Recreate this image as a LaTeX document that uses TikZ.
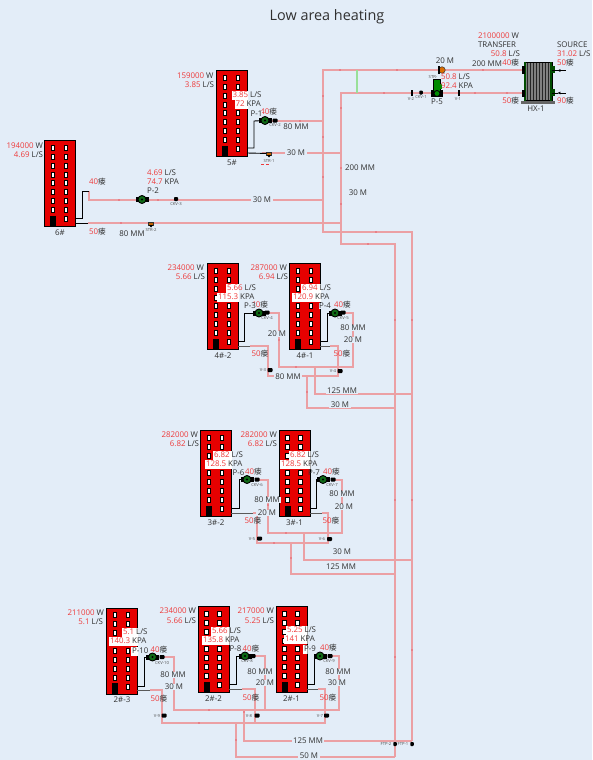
\documentclass[tikz,border=0pt]{standalone}
\usepackage{fontspec}
\setmainfont{Open Sans}
\newfontfamily\cjkf{Noto Sans CJK SC}
\usetikzlibrary{arrows.meta,calc}
\definecolor{bgc}{HTML}{E3EDF8}
\definecolor{pipec}{HTML}{EBA0A4}
\definecolor{tickc}{HTML}{E88088}
\definecolor{numc}{HTML}{EE3A3A}
\definecolor{txtc}{HTML}{303030}
\definecolor{redb}{HTML}{E60000}
\definecolor{greenp}{HTML}{0F6A16}
\newcommand{\rv}[1]{\textcolor{numc}{#1}}
\newcommand{\tmpv}[1]{\textcolor{numc}{#1}{\cjkf\fontsize{7.6}{8}\selectfont 瘘}}
\tikzset{
  pipe/.style={draw=pipec,line width=1.3pt,line join=miter},
  feed/.style={draw=black,line width=0.9pt},
  ret/.style={draw=black!65,line width=0.9pt},
  lab/.style={font=\fontsize{7.9}{9}\selectfont,text=txtc,inner sep=0pt,outer sep=0pt},
  tiny/.style={font=\fontsize{4.2}{5}\selectfont,text=black!70,inner sep=0pt},
  cut/.style={lab,fill=bgc,inner xsep=1.5pt,inner ysep=0.5pt},
  building/.style={draw=black,fill=redb,line width=1pt,minimum width=31pt,minimum height=86pt,inner sep=0pt,anchor=north west},
  wind/.style={draw=black,fill=white,line width=0.7pt},
  pumpn/.style={circle,fill=greenp,draw=black,line width=0.9pt,minimum size=8pt,inner sep=0pt},
  valve/.style={rectangle,fill=black,minimum width=5pt,minimum height=4pt,inner sep=0pt,rounded corners=0.8pt},
  vbar/.style={rectangle,fill=black,minimum width=1.8pt,minimum height=6pt,inner sep=0pt},
  strn/.style={rectangle,fill=orange!75!black,draw=black!80,line width=0.5pt,minimum width=5pt,minimum height=3pt,inner sep=0pt},
}
\newcommand{\Bld}[4]{% name x y label
  \node[building] (#1) at (#2,#3) {};
  \foreach \r in {0,...,7}{
    \draw[wind] ({#2+7.2},{#3+5+\r*8.95}) rectangle ++(3.6,5);
    \draw[wind] ({#2+20.2},{#3+5+\r*8.95}) rectangle ++(3.6,5);
  }
  \draw[wind] ({#2+20.2},{#3+76.6}) rectangle ++(3.6,5);
  \fill[black] ({#2+6},{#3+75.5}) rectangle ({#2+12},{#3+86});
  \node[lab] at ($(#1.south)+(0,5.5)$) {#4};
}
\newcommand{\Pump}[3]{% name x y
  \fill[black] ({#2-6.5},{#3-2.5}) rectangle ({#2+6.5},{#3+2.5});
  \node[pumpn] (#1) at (#2,#3) {};
  \fill[black] (#2,#3) circle (1.1pt);
}
% label with a white ground where it lies over its building: building, name, position, text
\newcommand{\Wlab}[4]{%
  \begin{scope}
    \clip (#1.south west) rectangle (#1.north east);
    \fill[white] ($(#3)+(-0.6,-4.5)$) -- ++(60,0) -- ++(0,9) -- ++(-60,0) -- cycle;
  \end{scope}
  \node[lab,anchor=west] (#2) at (#3) {#4};
}
\begin{document}
\begin{tikzpicture}[x=1pt,y=-1pt]
\useasboundingbox[fill=bgc] (0,0) rectangle (592,760);
\node[lab,font=\fontsize{14.4}{16}\selectfont] (title) at (327,17) {Low area heating};

% junction points
\coordinate (ta) at (323,70);
\coordinate (tb) at (341,93);
\coordinate (hL1) at (524,70);
\coordinate (hL2) at (524,93);
\coordinate (tend1) at (412,741);
\coordinate (tend2) at (395,757);

% main trunks
\draw[pipe] (hL1) -- (ta) -- (323,232) -- (412,232) -- (tend1);
\draw[pipe] (hL2) -- (tb) -- (341,244) -- (395,244) -- (tend2);
\draw[draw=green!70!black!40!white,line width=1.2pt] (357,70) -- (357,93);

% 5#
\draw[pipe] (270,121) -- (323,121);
\draw[pipe] (262,153) -- (341,153);
% 6#
\draw[pipe] (89,191) -- (89,200) -- (323,200);
\draw[pipe] (88,223) -- (341,223);
% 4# row
\draw[pipe] (267,313) -- (279,313) -- (279,367) -- (353,367) -- (353,313) -- (343,313);
\draw[pipe] (250,346) -- (268,346) -- (268,376) -- (338,376) -- (338,346) -- (330,346);
\draw[pipe] (315,367) -- (315,394) -- (412,394);
\draw[pipe] (307,376) -- (307,408) -- (395,408);
% 3# row
\draw[pipe] (257,480) -- (268,480) -- (268,533) -- (342,533) -- (342,480) -- (332,480);
\draw[pipe] (253,513) -- (257,513) -- (257,543) -- (328,543) -- (328,513) -- (322,513);
\draw[pipe] (304,533) -- (304,560) -- (412,560);
\draw[pipe] (291,543) -- (291,574) -- (395,574);
% 2# row
\draw[pipe] (162,657) -- (174,657) -- (174,710) -- (339,710) -- (339,656) -- (330,656);
\draw[pipe] (252,656) -- (265,656) -- (265,710);
\draw[pipe] (150,690) -- (162,690) -- (162,723) -- (325,723) -- (325,689) -- (318,689);
\draw[pipe] (242,689) -- (255,689) -- (255,723);
\draw[pipe] (244,710) -- (244,741) -- (tend1);
\draw[pipe] (236,723) -- (236,757) -- (tend2);

% ticks on the pipes
\foreach \p in {(340,70),(397,70),(483,70),(384,93),(475,93),(507,93),(323,96),(323,137),(323,177),(341,108),(341,168),(341,204),(376,232),(368,244),(300,121),
 (119,200),(158,200),(121,223),(412,320),(395,320),(412,500),(395,500),(412,650),(395,657),(279,340),(296,367),(307,392),(300,376),(268,505),(286,533),(274,543),(291,558),(209,710),(199,723),(236,740),(244,712)}
  \fill[tickc] \p ++(-1.2,-1.2) rectangle ++(2.4,2.4);

% buildings
\Bld{b5}{216}{70}{5\#}
\Bld{b6}{44}{140}{6\#}
\Bld{b42}{207}{263}{4\#-2}
\Bld{b41}{289}{263}{4\#-1}
\Bld{b32}{200}{430}{3\#-2}
\Bld{b31}{278.5}{430}{3\#-1}
\Bld{b23}{106}{607.5}{2\#-3}
\Bld{b22}{197.5}{606}{2\#-2}
\Bld{b21}{275.5}{606}{2\#-1}

% pumps and valves
\Pump{p1}{265}{120.5}
\Pump{p2}{142}{199.5}
\Pump{p3}{259}{313}
\Pump{p4}{335}{313}
\Pump{p6}{247}{479.5}
\Pump{p7}{323}{479.5}
\Pump{p10}{152.5}{657}
\Pump{p8}{245}{656}
\Pump{p9}{320}{656}
\node[valve] (c2) at (275,120.5) {};
\node[valve,minimum width=4pt] (c3) at (176,199) {};
\node[valve] (c4) at (267,312.5) {};
\node[valve] (c5) at (343,312.5) {};
\node[valve] (c6) at (257,479.5) {};
\node[valve] (c7) at (333,479.5) {};
\node[valve] (c10) at (162,657) {};
\node[valve] (c8) at (253,656) {};
\node[valve] (c9) at (330,656) {};
\node[strn] (s1) at (269,153.5) {};
\fill[black] (267,155) -- (271,155) -- (269,157.5) -- cycle;
\node[strn] (s2) at (151,223.5) {};
\fill[black] (149,225) -- (153,225) -- (151,227.5) -- cycle;
\node[valve] (v3) at (270,370) {};
\node[valve] (v4) at (340,371) {};
\node[valve] (v5) at (259.5,538.5) {};
\node[valve] (v6) at (329.5,539) {};
\node[valve] (v8) at (164,715.5) {};
\node[valve] (v88) at (257,715.5) {};
\node[valve] (v7) at (326.5,715.5) {};
\node[valve,minimum width=3.5pt] (f2) at (395,744) {};
\node[valve,minimum width=3.5pt] (f1) at (412,744) {};

% connections from the buildings
\draw[feed] (247,148) -| (254,121) -- (p1);
\draw[feed] (247,153) -- (s1);
\draw[feed] (76,218) -- (82.5,218) -- (82.5,191) -- (89,191);
\draw[feed] (76,223) -- (88,223);
\draw[feed] (238,341) -- (244,341) -- (244,313) -- (p3);
\draw[ret] (238,346) -- (250,346);
\draw[feed] (320,341) -- (327,341) -- (327,313) -- (p4);
\draw[ret] (320,346) -- (330,346);
\draw[feed] (231,508) -- (239,508) -- (239,479.5) -- (p6);
\draw[ret] (231,513) -- (253,513);
\draw[feed] (310,508) -- (316.5,508) -- (316.5,479.5) -- (p7);
\draw[ret] (310,513) -- (322,513);
\draw[feed] (137,686) -- (144,686) -- (144,657) -- (p10);
\draw[ret] (137,690) -- (150,690);
\draw[feed] (229,684) -- (236,684) -- (236,656) -- (p8);
\draw[ret] (229,689) -- (242,689);
\draw[feed] (307,684) -- (314,684) -- (314,656) -- (p9);
\draw[ret] (307,689) -- (318,689);

% source side equipment
\node[circle,fill=orange!85!black,draw=black!80,line width=0.5pt,minimum size=6.5pt,inner sep=0pt] (s5) at (442,70) {};
\fill[black] (438,66.5) rectangle (439.5,73.5);
\fill[black] (431,90) rectangle (443,97);
\fill[green!55!black,draw=black,line width=0.5pt] (433,79) rectangle (440,92);
\fill[green!55!black] (433.5,84) rectangle (441.5,89);
\node[pumpn,fill=green!55!black,minimum size=6pt] (p5) at (437,93.5) {};
\node[vbar] (v1) at (459,93) {};
\node[vbar] (v2) at (412,92.5) {};
\node[valve,minimum width=3.5pt] (c1) at (421,92.5) {};

% heat exchanger
\node[rectangle,draw=black,fill=black!50,line width=0.7pt,minimum width=28pt,minimum height=38pt,inner sep=0pt] (hx) at (538,81.5) {};
\foreach \x in {527,530,533,536,539,542,545,548} \draw[black!85,line width=0.8pt] (\x,63) -- (\x,100);
\fill[black!70!green] (524,62.5) rectangle (526,100.5);
\fill[black!70!green] (550,62.5) rectangle (552,100.5);
\fill[black!60] (521,101) rectangle (555,104);
\fill[black] (522,66.5) rectangle (525,73.5);
\fill[black] (522,89.5) rectangle (525,96.5);
\fill[black!70!green] (552,66) rectangle (555,73);
\fill[black!70!green] (552,89) rectangle (555,96);
\coordinate (src1) at (566,70.5);
\coordinate (src2) at (566,93);
\draw[{Latex[length=3pt,width=3pt]}-,black,line width=0.7pt] (hx.east |- src1) ++(5,0) -- (src1);
\draw[{Latex[length=3pt,width=3pt]}-,black,line width=0.7pt] (hx.east |- src2) ++(5,0) -- (src2);
\draw[black,line width=0.7pt] (hx.east |- src1) -- ++(6,0);
\draw[black,line width=0.7pt] (hx.east |- src2) -- ++(6,0);

% ---- labels: source / transfer
\node[lab,anchor=east] (l1) at (519,36) {\rv{2100000} W};
\node[lab,anchor=east] (l2) at (516,45) {TRANSFER};
\node[lab,anchor=east] (l3) at (520,54) {\rv{50.8} L/S};
\node[lab] (l4) at (487,64) {200 MM};
\node[lab,anchor=east] (l5) at (519,63) {\tmpv{40}};
\node[lab,anchor=west] (l6) at (557,45) {SOURCE};
\node[lab,anchor=west] (l7) at (557,54) {\rv{31.02} L/S};
\node[lab,anchor=west] (l8) at (557,63) {\tmpv{50}};
\node[lab,anchor=east] (l9) at (519,101) {\tmpv{50}};
\node[lab,anchor=west] (l10) at (557,101) {\tmpv{90}};
\node[lab] (l11) at (536,109) {HX-1};
\node[lab] (l12) at (445,61) {20 M};
\node[tiny] (l13) at (433,77) {STR-};
\node[lab,anchor=west] (l14) at (441,77) {\rv{50.8} L/S};
\node[lab,anchor=west] (l15) at (441,86) {\rv{92.4} KPA};
\node[lab] (l16) at (437,102) {P-5};
\node[tiny] (l17) at (411,99) {V-2};
\node[tiny] (l18) at (421,97) {CKV-1};
\node[tiny] (l19) at (458,99) {V-1};

% 5#
\node[lab,anchor=east] (a1) at (213.5,76) {\rv{159000} W};
\node[lab,anchor=east] (a2) at (214,85) {\rv{3.85} L/S};
\Wlab{b5}{a3}{232.5,95}{\rv{3.85} L/S}
\Wlab{b5}{a4}{235.5,104}{\rv{72} KPA}
\node[lab,anchor=east] (a5) at (277,112) {\tmpv{40}};
\node[lab,anchor=west,fill=bgc] (a6) at (250.5,114) {P-1};
\node[tiny] (a7) at (275,125) {CKV-2};
\node[cut] (a8) at (296,127) {80 MM};
\node[cut] (a9) at (296,153) {30 M};
\node[tiny] (a10) at (269,161) {STR-1};
\draw[numc,line width=0.8pt,densely dashed] (261,164) -- (269,164);
\node[cut] (a11) at (360,168) {200 MM};
\node[cut] (a12) at (358,193) {30 M};

% 6#
\node[lab,anchor=east] (d1) at (43,146) {\rv{194000} W};
\node[lab,anchor=east] (d2) at (43,155) {\rv{4.69} L/S};
\node[lab,anchor=west] (d3) at (89,182) {\tmpv{40}};
\node[lab,anchor=west] (d4) at (89,232) {\tmpv{50}};
\node[lab] (d5) at (132,234) {80 MM};
\node[lab,anchor=west] (d6) at (147,173) {\rv{4.69} L/S};
\node[lab,anchor=west] (d7) at (147,182) {\rv{74.7} KPA};
\node[lab,anchor=west] (d8) at (147,191) {P-2};
\node[tiny] (d9) at (176,204) {CKV-3};
\node[tiny] (d10) at (151,230) {STR-2};
\node[cut] (d11) at (262,200) {30 M};

% 4#
\node[lab,anchor=east] (e1) at (204,268) {\rv{234000} W};
\node[lab,anchor=east] (e2) at (205,277) {\rv{5.66} L/S};
\Wlab{b42}{e3}{227,288}{\rv{5.66} L/S}
\Wlab{b42}{e4}{218,297}{\rv{115.3} KPA}
\node[lab,anchor=east] (e5) at (268,305) {\tmpv{40}};
\node[lab,anchor=west,fill=bgc] (e6) at (244,306) {P-3};
\node[tiny] (e7) at (267,318) {CKV-4};
\node[cut] (e8) at (277,334) {20 M};
\node[lab] (e9) at (260,354) {\tmpv{50}};
\node[tiny] (e10) at (263,370) {V-3};
\node[cut] (e11) at (288,377) {80 MM};
\node[lab,anchor=east] (e12) at (287,268) {\rv{287000} W};
\node[lab,anchor=east] (e13) at (288,277) {\rv{6.94} L/S};
\Wlab{b41}{e14}{302,288}{\rv{6.94} L/S}
\Wlab{b41}{e15}{293,297}{\rv{120.9} KPA}
\node[lab,anchor=west,fill=bgc] (e16) at (319,306) {P-4};
\node[lab] (e17) at (342.5,305) {\tmpv{40}};
\node[tiny] (e18) at (343,318) {CKV-5};
\node[cut] (e19) at (353,328) {80 MM};
\node[cut] (e20) at (353,340) {20 M};
\node[lab] (e21) at (342,354) {\tmpv{50}};
\node[tiny] (e22) at (333,371) {V-4};
\node[cut] (e23) at (342,391) {125 MM};
\node[cut] (e24) at (340,405) {30 M};

% 3#
\node[lab,anchor=east] (f1l) at (198,435) {\rv{282000} W};
\node[lab,anchor=east] (f2l) at (199,444) {\rv{6.82} L/S};
\Wlab{b32}{f3l}{214,455}{\rv{6.82} L/S}
\Wlab{b32}{f4l}{206,464}{\rv{128.5} KPA}
\node[lab] (f5l) at (253.5,472) {\tmpv{40}};
\node[lab,anchor=west] (f6l) at (232.5,473) {P-6};
\node[tiny] (f7l) at (257,484.5) {CKV-6};
\node[cut] (f8l) at (267,500) {80 MM};
\node[cut] (f9l) at (267,513) {20 M};
\node[lab] (f10l) at (253,521) {\tmpv{50}};
\node[tiny] (f11l) at (252,539) {V-5};
\node[lab,anchor=east] (f12l) at (277,435) {\rv{282000} W};
\node[lab,anchor=east] (f13l) at (277,444) {\rv{6.82} L/S};
\Wlab{b31}{f14l}{290,455}{\rv{6.82} L/S}
\Wlab{b31}{f15l}{281,464}{\rv{128.5} KPA}
\node[lab,anchor=west] (f16l) at (308,473) {P-7};
\node[lab] (f17l) at (331.5,472) {\tmpv{40}};
\node[tiny] (f18l) at (332,484.5) {CKV-7};
\node[cut] (f19l) at (342,494) {80 MM};
\node[cut] (f20l) at (344,507) {20 M};
\node[lab] (f21l) at (331,521) {\tmpv{50}};
\node[tiny] (f22l) at (322,539) {V-6};
\node[cut] (f23l) at (342,552) {30 M};
\node[cut] (f24l) at (341,567) {125 MM};

% 2#
\node[lab,anchor=east] (g1) at (104,613) {\rv{211000} W};
\node[lab,anchor=east] (g2) at (103,622) {\rv{5.1} L/S};
\Wlab{b23}{g3}{123,632}{\rv{5.1} L/S}
\Wlab{b23}{g4}{110,641}{\rv{140.3} KPA}
\node[lab] (g5) at (159,650) {\tmpv{40}};
\Wlab{b23}{g6}{132,651}{P-10}
\node[tiny] (g7) at (162,663) {CKV-10};
\node[cut] (g8) at (173,675) {80 MM};
\node[cut] (g9) at (174,687) {30 M};
\node[lab] (g10) at (159,699) {\tmpv{50}};
\node[tiny] (g11) at (157,716) {V-9};
\node[lab,anchor=east] (g12) at (196,611) {\rv{234000} W};
\node[lab,anchor=east] (g13) at (196,621) {\rv{5.66} L/S};
\Wlab{b22}{g14}{212,631}{\rv{5.66} L/S}
\Wlab{b22}{g15}{203,640}{\rv{135.8} KPA}
\node[lab] (g16) at (251,649) {\tmpv{40}};
\node[lab,anchor=west] (g17) at (229.5,649) {P-8};
\node[tiny] (g18) at (247,661) {CKV-8};
\node[cut] (g19) at (260,672) {80 MM};
\node[cut] (g20) at (265,683) {20 M};
\node[lab] (g21) at (251,698) {\tmpv{50}};
\node[tiny] (g22) at (249,716) {V-8};
\node[lab,anchor=east] (g23) at (274,611) {\rv{217000} W};
\node[lab,anchor=east] (g24) at (274,621) {\rv{5.25} L/S};
\Wlab{b21}{g25}{287,630}{\rv{5.25} L/S}
\Wlab{b21}{g26}{285,639}{\rv{141} KPA}
\Wlab{b21}{g27}{304,649}{P-9}
\node[lab] (g28) at (328.5,648) {\tmpv{40}};
\node[tiny] (g29) at (329,661) {CKV-9};
\node[cut] (g30) at (338,672) {80 MM};
\node[cut] (g31) at (337,683) {30 M};
\node[lab] (g32) at (328,698) {\tmpv{50}};
\node[tiny] (g33) at (320,716) {V-7};
\node[cut] (g34) at (308,741) {125 MM};
\node[cut] (g35) at (309,756) {50 M};
\node[tiny] (g36) at (386,744) {FTP-2};
\node[tiny] (g37) at (403,744) {FTP-1};
\end{tikzpicture}
\end{document}
